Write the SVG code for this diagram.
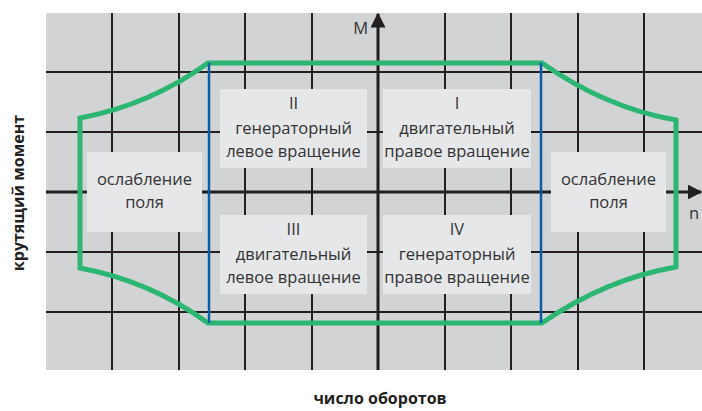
<svg xmlns="http://www.w3.org/2000/svg" width="702" height="411" viewBox="0 0 702 411">
<defs>
<style>
.grid{stroke:#231f20;stroke-width:2;fill:none}
.axis{stroke:#231f20;stroke-width:3;fill:none}
.box{fill:#e6e7e8}
.t{font-family:"Open Sans","Liberation Sans",sans-serif;font-size:16.5px;fill:#333333;text-anchor:middle}
.lbl{font-family:"Open Sans","Liberation Sans",sans-serif;font-size:16px;font-weight:bold;fill:#231f20;text-anchor:middle}
.green{stroke:#2bb673;stroke-width:5;fill:none;stroke-linejoin:miter}
.blue{stroke:#0b5ca8;stroke-width:2.5;fill:none}
</style>
<marker id="arr" viewBox="0 0 10 10" refX="9" refY="5" markerWidth="5" markerHeight="5" orient="auto" markerUnits="strokeWidth">
<path d="M0,0 L10,5 L0,10 z" fill="#231f20"/>
</marker>
</defs>
<rect x="46" y="13" width="656" height="357" fill="#d1d3d4"/>
<g id="grid">
<path class="grid" d="M112 13V370M179 13V370M245 13V370M312 13V370M445 13V370M511 13V370M578 13V370M644 13V370"/>
<path class="grid" d="M46 72H702M46 132H702M46 252H702M46 312H702"/>
</g>
<g id="connectors">
<line class="axis" x1="378" y1="370" x2="378" y2="14" marker-end="url(#arr)"/>
<line class="axis" x1="46" y1="192" x2="701" y2="192" marker-end="url(#arr)"/>
<path class="green" d="M208 63H542Q606 108 676 120V267Q606 279 542 323H208Q150 281 80 268V118Q150 105 208 63Z"/>
<line class="blue" x1="209" y1="63" x2="209" y2="323"/>
<line class="blue" x1="541" y1="63" x2="541" y2="323"/>
</g>
<text class="t" x="368" y="34" style="text-anchor:end">M</text>
<text class="t" x="689" y="219" style="text-anchor:start">n</text>
<g id="q2">
<rect class="box" x="220" y="89" width="147" height="79"/>
<text class="t" x="293.5" y="109">II</text>
<text class="t" x="293.5" y="134">генераторный</text>
<text class="t" x="293.5" y="157">левое вращение</text>
</g>
<g id="q1">
<rect class="box" x="383" y="89" width="148" height="79"/>
<text class="t" x="457" y="109">I</text>
<text class="t" x="457" y="134">двигательный</text>
<text class="t" x="457" y="157">правое вращение</text>
</g>
<g id="q3">
<rect class="box" x="220" y="215" width="147" height="79"/>
<text class="t" x="293.5" y="235">III</text>
<text class="t" x="293.5" y="260">двигательный</text>
<text class="t" x="293.5" y="283">левое вращение</text>
</g>
<g id="q4">
<rect class="box" x="383" y="215" width="148" height="79"/>
<text class="t" x="457" y="235">IV</text>
<text class="t" x="457" y="260">генераторный</text>
<text class="t" x="457" y="283">правое вращение</text>
</g>
<g id="fw-left">
<rect class="box" x="87" y="152" width="115" height="80"/>
<text class="t" x="144.5" y="185">ослабление</text>
<text class="t" x="144.5" y="208">поля</text>
</g>
<g id="fw-right">
<rect class="box" x="551" y="152" width="115" height="80"/>
<text class="t" x="608.5" y="185">ослабление</text>
<text class="t" x="608.5" y="208">поля</text>
</g>
<text class="lbl" transform="translate(24 193) rotate(-90)">крутящий момент</text>
<text class="lbl" x="380" y="404">число оборотов</text>
</svg>
